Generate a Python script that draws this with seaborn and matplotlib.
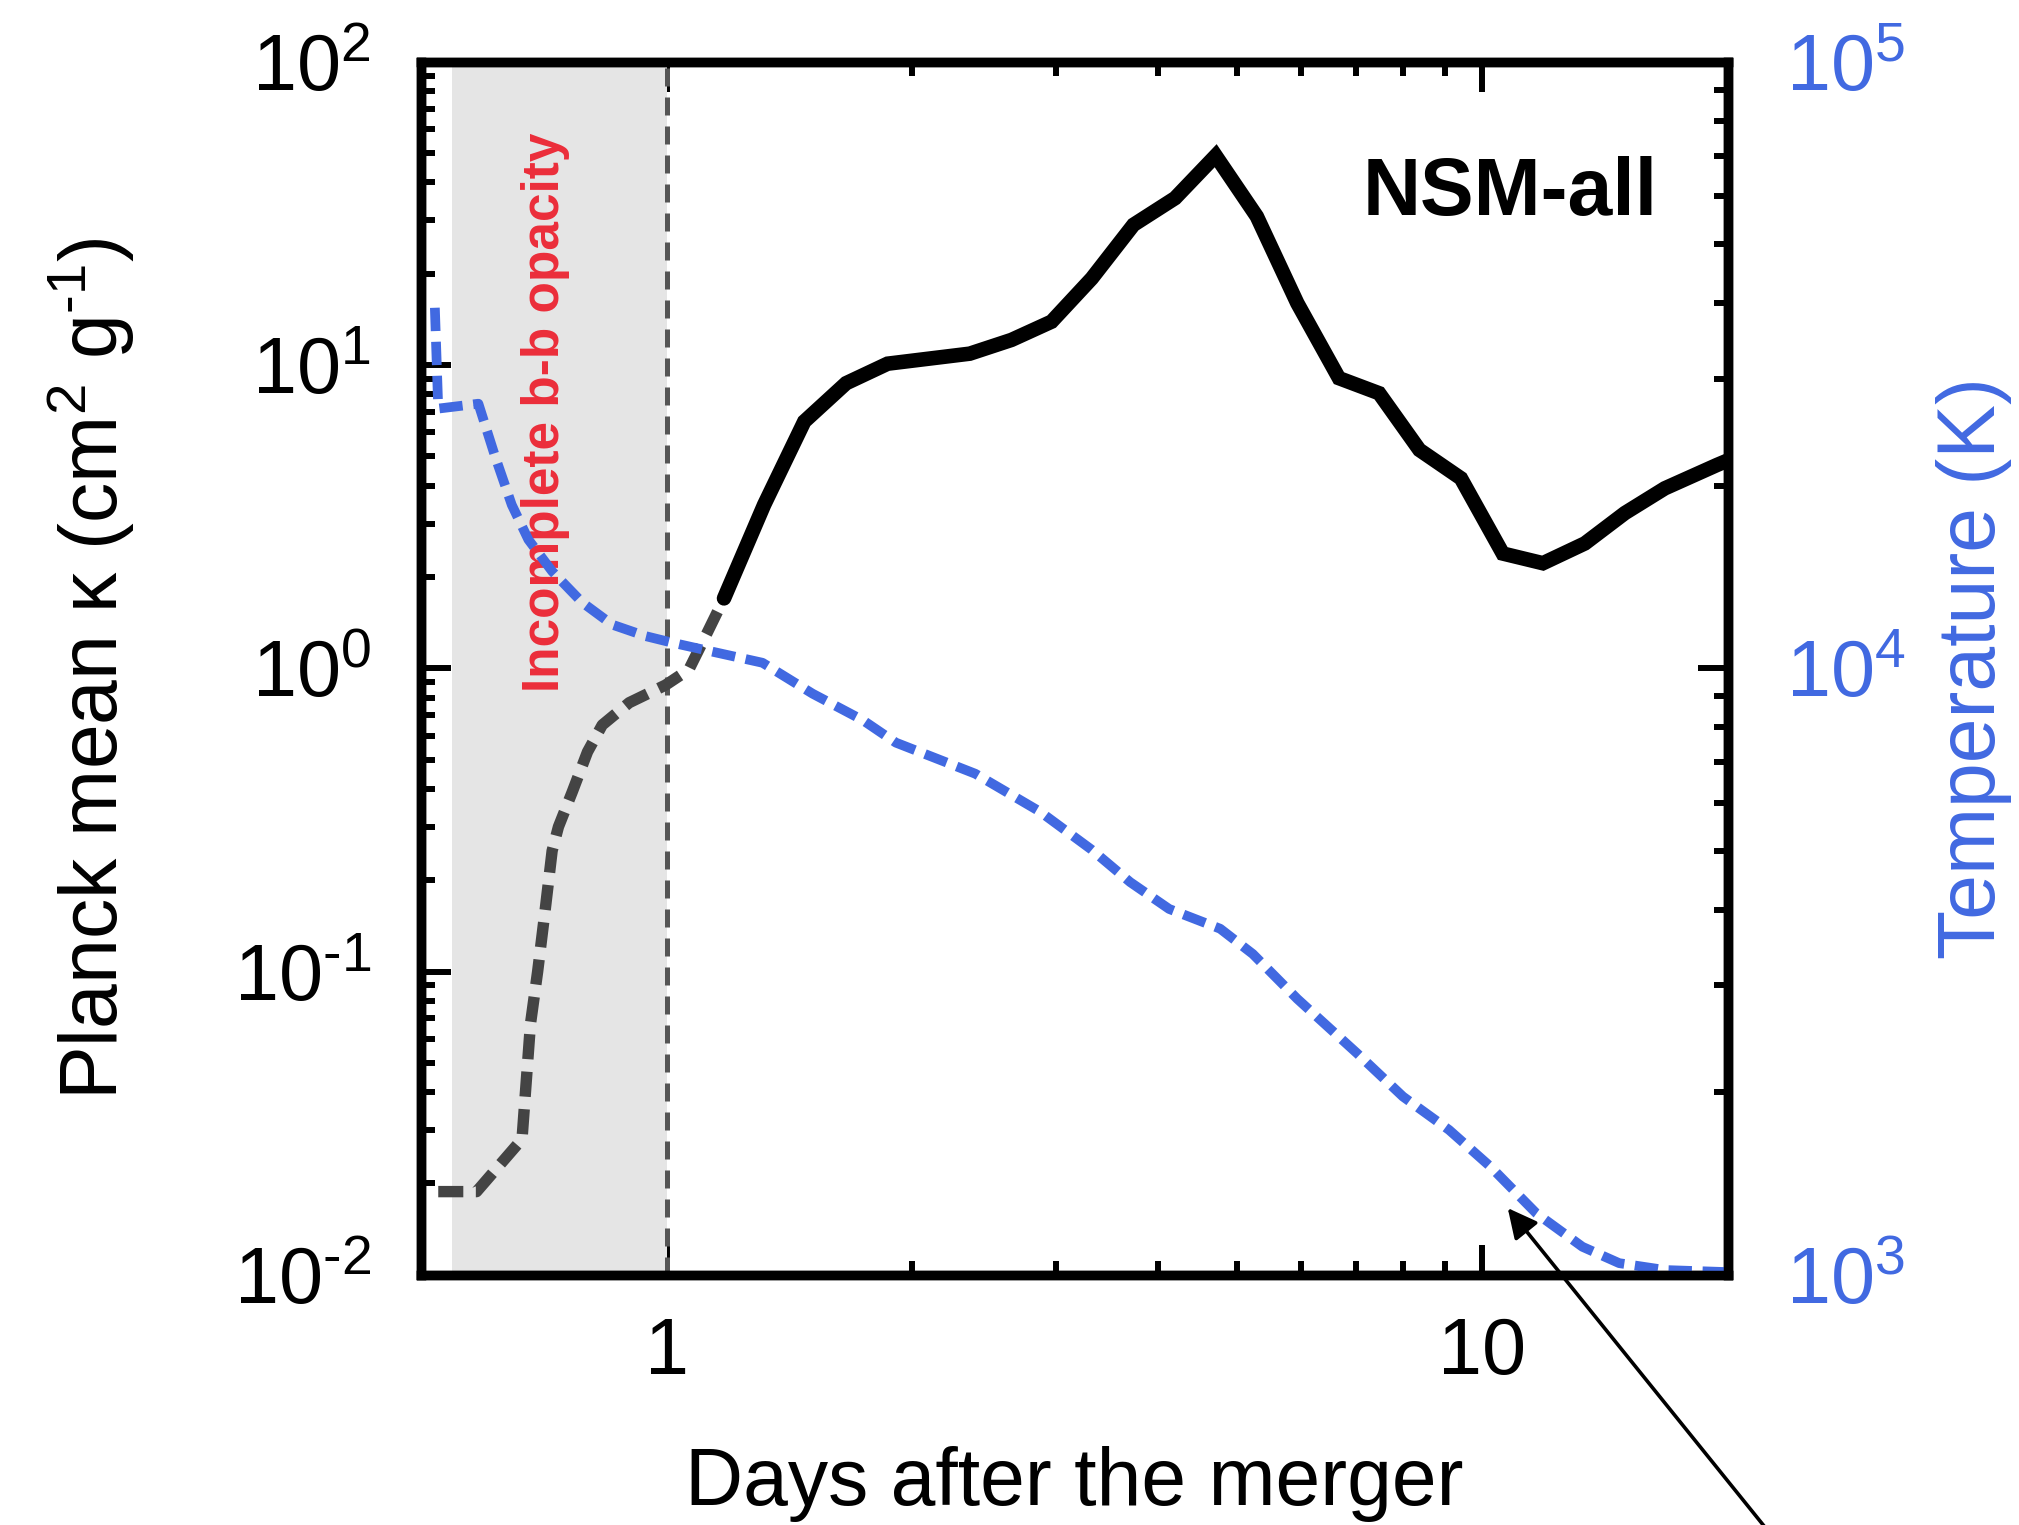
import numpy as np
import seaborn as sns
from matplotlib import pyplot as plt
from matplotlib import ticker

# Planck mean opacity, early part with incomplete b-b opacity (dashed gray)
days_early = [0.525, 0.585, 0.665, 0.681, 0.695, 0.710, 0.724, 0.737, 0.766,
              0.800, 0.834, 0.900, 0.997, 1.065, 1.120, 1.176]
kappa_early = [0.0188, 0.0188, 0.028, 0.067, 0.10, 0.16, 0.25, 0.30, 0.39,
               0.53, 0.65, 0.77, 0.88, 0.99, 1.30, 1.70]

# Planck mean opacity, main part (solid black)
days_main = [1.176, 1.317, 1.475, 1.66, 1.866, 2.10, 2.353, 2.647, 2.964, 3.32,
             3.735, 4.20, 4.71, 5.29, 5.93, 6.67, 7.47, 8.37, 9.41, 10.59,
             11.86, 13.35, 14.95, 16.73, 19.38, 20.0]
kappa_main = [1.70, 3.46, 6.51, 8.71, 10.1, 10.5, 10.9, 12.1, 13.9, 19.3,
              29.0, 35.5, 49.0, 30.9, 16.0, 9.05, 8.07, 5.25, 4.23, 2.39,
              2.22, 2.58, 3.25, 3.92, 4.68, 4.85]

# temperature (blue dashed, right axis)
days_temp = [0.520, 0.525, 0.588, 0.616, 0.646, 0.677, 0.724, 0.788, 0.858,
             0.942, 1.016, 1.138, 1.311, 1.51, 1.74, 1.91, 2.39, 2.87, 3.32,
             3.70, 4.13, 4.77, 5.23, 5.93, 7.02, 7.99, 9.10, 10.23, 11.64,
             13.26, 14.71, 16.75, 20.0]
temp = [39300, 26800, 27300, 22400, 18600, 16300, 14450, 12840, 11800,
        11300, 11020, 10650, 10210, 9080, 8210, 7540, 6700, 5800, 5020,
        4440, 4010, 3720, 3380, 2850, 2318, 1967, 1733, 1507, 1263,
        1112, 1045, 1018, 1010]

x_major = [1, 10]
x_major_labels = ['1', '10']
x_minor = [0.5, 0.6, 0.7, 0.8, 0.9, 2, 3, 4, 5, 6, 7, 8, 9]

BLUE = '#4169e1'
RED = '#ec2d3a'
GRAY = '#444444'
HYPH = '\u2010'  # short hyphen like the original exponents

sns.set_theme(style='ticks')
plt.rcParams['font.family'] = ['Liberation Sans', 'DejaVu Sans']
plt.rcParams['mathtext.fontset'] = 'custom'
plt.rcParams['mathtext.rm'] = 'Liberation Sans'
plt.rcParams['mathtext.it'] = 'Liberation Sans:italic'
plt.rcParams['mathtext.bf'] = 'Liberation Sans:bold'
plt.rcParams['text.color'] = 'black'
plt.rcParams['axes.labelcolor'] = 'black'
plt.rcParams['xtick.color'] = 'black'
plt.rcParams['ytick.color'] = 'black'


def pow_label(v, p):
    e = int(round(np.log10(v)))
    s = str(abs(e)) if e >= 0 else HYPH + str(abs(e))
    return r'$\mathregular{10^{%s}}$' % s


fig = plt.figure(figsize=(20.19, 15.25), dpi=100)
ax = fig.add_axes([0.2085, 0.1641, 0.6474, 0.7954])
ax.set_xscale('log')
ax.set_yscale('log')

# shaded region (drawn over the ticks like in the original)
ax.axvspan(0.546, 1.0, color='#e5e5e5', lw=0, zorder=1)
ax.axvline(1.0, color='#555555', lw=3.6, linestyle=(0, (3.6, 2.2)), zorder=1.7)

sns.lineplot(x=days_early, y=kappa_early, ax=ax, color=GRAY, lw=8.2,
             linestyle=(0, (2.2, 1.1)), sort=False, estimator=None)
sns.lineplot(x=days_main, y=kappa_main, ax=ax, color='black', lw=10.5,
             solid_joinstyle='miter', sort=False, estimator=None)

ax.set_xlim(0.5, 20)
ax.set_ylim(1e-2, 1e2)

ax.xaxis.set_major_locator(ticker.FixedLocator(x_major))
ax.xaxis.set_major_formatter(ticker.FixedFormatter(x_major_labels))
ax.xaxis.set_minor_locator(ticker.FixedLocator(x_minor))
ax.xaxis.set_minor_formatter(ticker.NullFormatter())

pow_fmt = ticker.FuncFormatter(pow_label)
ax.yaxis.set_major_locator(ticker.LogLocator(base=10, numticks=10))
ax.yaxis.set_minor_locator(ticker.LogLocator(base=10, subs=np.arange(2, 10), numticks=10))
ax.yaxis.set_major_formatter(pow_fmt)
ax.yaxis.set_minor_formatter(ticker.NullFormatter())

ax.tick_params(which='both', direction='in', top=True, right=False, width=4.3,
               color='black', labelcolor='black')
ax.tick_params(which='major', length=21.5)
ax.tick_params(which='minor', length=10)
ax.tick_params(axis='x', which='major', labelsize=57, pad=30)
ax.tick_params(axis='y', which='major', labelsize=57, pad=36)

ax.text(0.71, 7.0, 'Incomplete b-b opacity', rotation=90, ha='center', va='center',
        color=RED, fontsize=37, fontweight='bold', zorder=3)
ax.text(0.946, 0.8736, 'NSM-all', transform=ax.transAxes, ha='right', va='baseline',
        fontsize=58, fontweight='bold', color='black')

ax.set_xlabel('Days after the merger', fontsize=58)
ax.xaxis.set_label_coords(0.5, -0.1415)
ax.set_ylabel('Planck mean κ (cm$^{2}$ g$^{%s1}$)' % HYPH, fontsize=58)
ax.yaxis.set_label_coords(-0.218, 0.5)

# temperature on the right axis
ax2 = ax.twinx()
ax2.set_yscale('log')
sns.lineplot(x=days_temp, y=temp, ax=ax2, color=BLUE, lw=7,
             linestyle=(0, (2.4, 1.1)), sort=False, estimator=None)
ax2.set_ylim(1e3, 1e5)
ax2.set_xlim(0.5, 20)
ax2.yaxis.set_major_locator(ticker.LogLocator(base=10, numticks=10))
ax2.yaxis.set_minor_locator(ticker.LogLocator(base=10, subs=np.arange(2, 10), numticks=10))
ax2.yaxis.set_major_formatter(pow_fmt)
ax2.yaxis.set_minor_formatter(ticker.NullFormatter())
ax2.tick_params(axis='y', which='both', direction='in', width=4.3, color='black',
                labelcolor=BLUE)
ax2.tick_params(axis='y', which='major', length=21.5, labelsize=57, pad=42)
ax2.tick_params(axis='y', which='minor', length=10)
ax2.set_ylabel('Temperature (K)', color=BLUE, fontsize=58)
ax2.yaxis.set_label_coords(1.159, 0.5)

for a in (ax, ax2):
    for s in a.spines.values():
        s.set_linewidth(6.8)
        s.set_color('black')

ax2.annotate('', xy=(10.74, 1288), xycoords='data', xytext=(1814, -63),
             textcoords='figure pixels', annotation_clip=False,
             arrowprops=dict(arrowstyle='-|>,head_length=0.9,head_width=0.45',
                             mutation_scale=20, lw=2.6, color='black',
                             shrinkA=0, shrinkB=0))

plt.savefig('out.png', dpi=100)
